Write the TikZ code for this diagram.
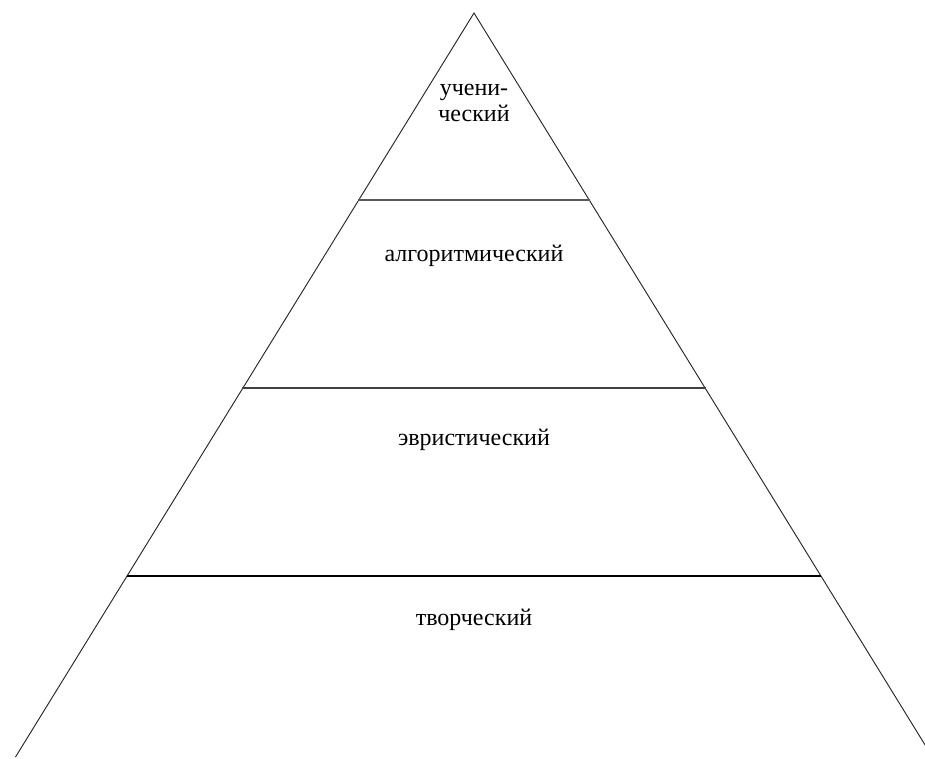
\documentclass[tikz,border=0pt]{standalone}
\usepackage{fontspec}
\setmainfont{Liberation Serif}
\begin{document}
\begin{tikzpicture}[x=0.75pt,y=-0.75pt,
  edge/.style={line width=0.7pt, black!85},
  tier/.style={line width=1.4pt},
  lbl/.style={font=\fontsize{18}{20}\selectfont, align=center, inner sep=0pt}]
\useasboundingbox (0,0) rectangle (925,758);
\clip (0,0) rectangle (925,758);
\coordinate (apex) at (474,13);
\coordinate (bl) at (15.5,757);
\coordinate (br) at (932.5,757);
\draw[edge] (bl) -- (apex) -- (br);
\coordinate (l1) at (358,200); \coordinate (r1) at (590,200);
\coordinate (l2) at (242,388); \coordinate (r2) at (706,388);
\coordinate (l3) at (127,576); \coordinate (r3) at (821,576);
\draw[tier, black!65] (l1) -- (r1);
\draw[tier, black!75] (l2) -- (r2);
\draw[tier, black] (l3) -- (r3);
\node[lbl] (t1) at (474,103) {учени-\\ческий};
\node[lbl] (t2) at (474,256) {алгоритмический};
\node[lbl] (t3) at (474,440) {эвристический};
\node[lbl] (t4) at (474,620) {творческий};
\end{tikzpicture}
\end{document}
